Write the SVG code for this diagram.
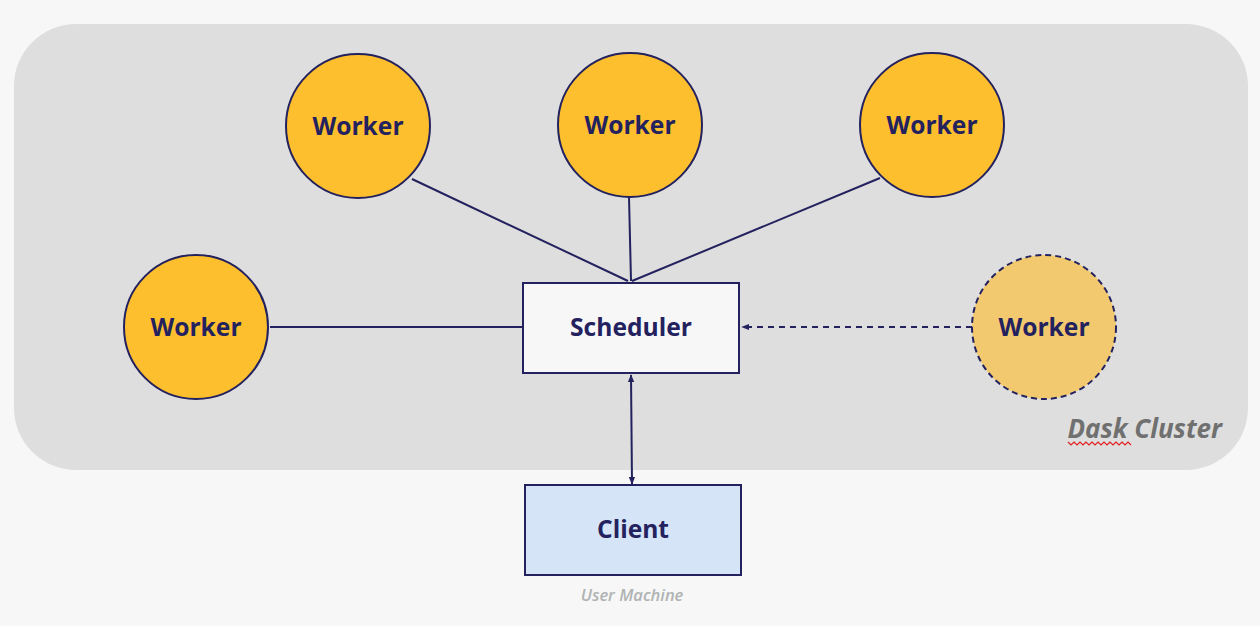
<svg xmlns="http://www.w3.org/2000/svg" width="1260" height="626" viewBox="0 0 1260 626">
<defs>
<marker id="ah" viewBox="0 0 10 10" refX="9" refY="5" markerWidth="8" markerHeight="8" markerUnits="userSpaceOnUse" orient="auto-start-reverse">
<path d="M0,1 L10,5 L0,9 Z" fill="#23225e"/>
</marker>
<style>
.w{fill:#fdbf2d;stroke:#23225e;stroke-width:2}
.lbl{font-family:"Open Sans","Liberation Sans",sans-serif;font-weight:bold;font-size:24.6px;fill:#23225e;text-anchor:middle}
.ln{stroke:#23225e;stroke-width:2;fill:none}
</style>
</defs>
<rect width="1260" height="626" fill="#f7f7f7"/>
<g id="cluster">
<rect x="14" y="24" width="1234" height="446" rx="62" fill="#dedede"/>
<text x="1222" y="438" font-family="'Open Sans','Liberation Sans',sans-serif" font-weight="bold" font-style="italic" font-size="26" fill="#707070" text-anchor="end">Dask Cluster</text>
<polyline points="1068,442 1071,445 1074,442 1077,445 1080,442 1083,445 1086,442 1089,445 1092,442 1095,445 1098,442 1101,445 1104,442 1107,445 1110,442 1113,445 1116,442 1119,445 1122,442 1125,445 1128,442 1131,445" fill="none" stroke="#e02020" stroke-width="1.2"/>
</g>
<g id="connectors">
<line class="ln" x1="412" y1="179" x2="628" y2="281"/>
<line class="ln" x1="629" y1="197" x2="631" y2="281"/>
<line class="ln" x1="880" y1="178" x2="632" y2="281"/>
<line class="ln" x1="270" y1="327" x2="523" y2="327"/>
<line class="ln" x1="972" y1="327" x2="742" y2="327" stroke-dasharray="6,5" marker-end="url(#ah)"/>
<line class="ln" x1="631" y1="375" x2="632" y2="484" marker-start="url(#ah)" marker-end="url(#ah)"/>
</g>
<g id="worker1"><circle class="w" cx="358" cy="126" r="72"/><text class="lbl" x="358" y="135">Worker</text></g>
<g id="worker2"><circle class="w" cx="630" cy="125" r="72"/><text class="lbl" x="630" y="134">Worker</text></g>
<g id="worker3"><circle class="w" cx="932" cy="125" r="72"/><text class="lbl" x="932" y="134">Worker</text></g>
<g id="worker4"><circle class="w" cx="196" cy="327" r="72"/><text class="lbl" x="196" y="336">Worker</text></g>
<g id="worker5"><circle cx="1044" cy="327" r="72" fill="#f2c96e" stroke="#23225e" stroke-width="2" stroke-dasharray="6,4"/><text class="lbl" x="1044" y="336">Worker</text></g>
<g id="scheduler"><rect x="523" y="283" width="216" height="90" fill="#f7f7f8" stroke="#23225e" stroke-width="2"/><text class="lbl" x="631" y="336">Scheduler</text></g>
<g id="client"><rect x="525" y="485" width="216" height="90" fill="#d6e4f8" stroke="#23225e" stroke-width="2"/><text class="lbl" x="633" y="538">Client</text></g>
<text x="632" y="601" font-family="'Open Sans','Liberation Sans',sans-serif" font-weight="600" font-style="italic" font-size="16.5" fill="#b0b3b3" text-anchor="middle">User Machine</text>
</svg>
